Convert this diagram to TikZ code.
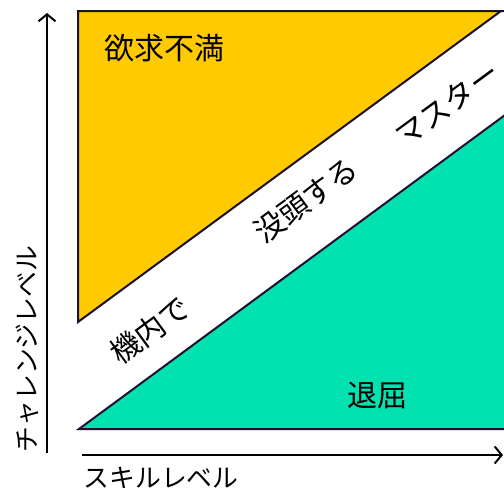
\documentclass[tikz,border=0pt]{standalone}
\usepackage{fontspec}
\setmainfont{Noto Sans CJK JP}
\usetikzlibrary{arrows.meta}
\definecolor{yel}{HTML}{FFCB00}
\definecolor{grn}{HTML}{02E2B0}
\definecolor{edge}{HTML}{1A1030}
\begin{document}
\begin{tikzpicture}[x=1pt,y=-1pt,
  region/.style={draw=edge,line width=2pt,line join=miter},
  axis/.style={line width=2pt,-{Straight Barb[length=7pt,width=17pt,line width=2pt]}},
  lbl/.style={inner sep=0pt,font=\fontsize{30}{30}\selectfont},
  axlbl/.style={inner sep=0pt,font=\fontsize{25.8}{26}\selectfont}]
\useasboundingbox (0,0) rectangle (504,491);
% regions
\fill[yel] (78,11) -- (501,11) -- (78,322) -- cycle;
\draw[region] (504,11) -- (78,11) -- (78,322) -- (501,11);
\fill[grn] (79,429) -- (505,115) -- (505,429) -- cycle;
\draw[region] (505,115) -- (79,429) -- (505,429);
% axes
\coordinate (yo) at (47,453);
\coordinate (yt) at (47,13);
\coordinate (xo) at (82,455);
\coordinate (xt) at (503,455);
\draw[axis] (yo) -- (yt);
\draw[axis] (xo) -- (xt);
% labels
\node[lbl] (frus) at (164,48) {欲求不満};
\node[lbl] (bore) at (377,396) {退屈};
\node[lbl,rotate=36.3] (kinai) at (150,330) {機内で};
\node[lbl,rotate=36.3] (botto) at (306,200) {没頭する};
\node[lbl,rotate=36.3] (master) at (447,104) {マスター};
\node[axlbl,rotate=90] (ylab) at (27,349) {チャレンジレベル};
\node[axlbl] (xlab) at (161,478) {スキルレベル};
\end{tikzpicture}
\end{document}
